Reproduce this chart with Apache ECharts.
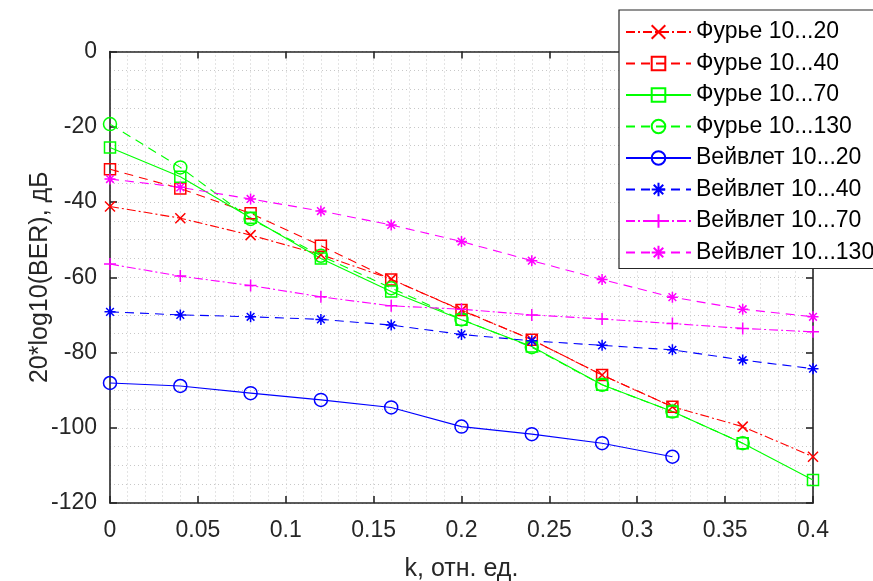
<!DOCTYPE html>
<html>
<head>
<meta charset="utf-8">
<script src="https://cdn.jsdelivr.net/npm/echarts@6/dist/echarts.min.js"></script>
<style>
    html, body { margin: 0; padding: 0; background: #fff; }
    #chart { width: 873px; height: 581px; }
</style>
</head>
<body>
<div id="chart"></div>
<script>
(function () {
    'use strict';

    // k values shared by every curve
    var kValues = [0, 0.04, 0.08, 0.12, 0.16, 0.2, 0.24, 0.28, 0.32, 0.36, 0.4];

    var fourier20 = [-41.2, -44.3, -48.8, -54.0, -60.5, -68.8, -76.6, -86.0, -94.4, -99.7, -107.7];
    var fourier40 = [-31.3, -36.4, -43.0, -51.6, -60.6, -68.7, -76.6, -86.0, -94.4];
    var fourier70 = [-25.5, -33.3, -44.2, -55.0, -63.8, -71.3, -78.4, -88.6, -95.7, -104.1, -113.9];
    var fourier130 = [-19.3, -30.8, -44.5, -54.3, -62.9, -71.2, -78.6, -88.6, -95.7, -104.1];
    var wavelet20 = [-88.1, -88.9, -90.8, -92.6, -94.6, -99.7, -101.7, -104.1, -107.7];
    var wavelet40 = [-69.2, -70.0, -70.5, -71.2, -72.7, -75.2, -76.9, -78.1, -79.3, -82.0, -84.3];
    var wavelet70 = [-56.5, -59.7, -62.2, -65.2, -67.6, -68.5, -70.0, -71.1, -72.3, -73.6, -74.5];
    var wavelet130 = [-33.9, -36.1, -39.2, -42.4, -46.1, -50.5, -55.6, -60.6, -65.3, -68.5, -70.5];

    var xTicks = { min: 0, max: 0.4, interval: 0.05 };
    var yTicks = { min: -120, max: 0, interval: 20 };

    var FONT = 'Liberation Sans, Arial, sans-serif';
    var AXIS_COLOR = '#262626';
    var DASHED = [9, 6];
    var DASH_DOT = [9, 3, 2, 3];

    var SYM_CROSS = 'path://M0,0L10,10M10,0L0,10';
    var SYM_PLUS = 'path://M5,0L5,10M0,5L10,5';
    var SYM_STAR = 'path://M5,0L5,10M0,5L10,5M1.5,1.5L8.5,8.5M8.5,1.5L1.5,8.5';
    var SYM_SQUARE = 'path://M0,0L10,0L10,10L0,10Z';

    function pairs(values) {
        return values.map(function (v, i) {
            return [kValues[i], v];
        });
    }

    function makeSeries(name, values, color, dash, symbol, size) {
        return {
            name: name,
            type: 'line',
            data: pairs(values),
            symbol: symbol,
            symbolSize: size,
            showAllSymbol: true,
            animation: false,
            lineStyle: { color: color, width: 1.1, type: dash },
            itemStyle: { color: 'rgba(0,0,0,0)', borderColor: color, borderWidth: 1.5 },
            emphasis: { disabled: true }
        };
    }

    var series = [
        makeSeries('Фурье 10...20', fourier20, '#ff0000', DASH_DOT, SYM_CROSS, 10),
        makeSeries('Фурье 10...40', fourier40, '#ff0000', DASHED, SYM_SQUARE, 11),
        makeSeries('Фурье 10...70', fourier70, '#00ff00', 'solid', SYM_SQUARE, 11),
        makeSeries('Фурье 10...130', fourier130, '#00ff00', DASHED, 'circle', 13),
        makeSeries('Вейвлет 10...20', wavelet20, '#0000ff', 'solid', 'circle', 13),
        makeSeries('Вейвлет 10...40', wavelet40, '#0000ff', DASHED, SYM_STAR, 11),
        makeSeries('Вейвлет 10...70', wavelet70, '#ff00ff', DASH_DOT, SYM_PLUS, 12),
        makeSeries('Вейвлет 10...130', wavelet130, '#ff00ff', DASHED, SYM_STAR, 11)
    ];

    var gridLine = { show: true, lineStyle: { color: '#c8c8c8', type: [1, 3], width: 1 } };

    function valueAxis(range, position, showLabels, extra) {
        var axis = {
            type: 'value',
            position: position,
            min: range.min,
            max: range.max,
            interval: range.interval,
            axisLine: { show: true, onZero: false, lineStyle: { color: AXIS_COLOR, width: 1.6 } },
            axisTick: { show: true, inside: true, length: 7, lineStyle: { color: AXIS_COLOR, width: 1.6 } },
            axisLabel: { show: showLabels, color: AXIS_COLOR, fontFamily: FONT, fontSize: 23 },
            splitLine: { show: false }
        };
        Object.keys(extra || {}).forEach(function (key) {
            axis[key] = extra[key];
        });
        return axis;
    }

    var option = {
        backgroundColor: '#fff',
        animation: false,
        grid: { left: 110, right: 60, top: 51.5, bottom: 78, containLabel: false, outerBoundsMode: 'none' },
        legend: {
            orient: 'vertical',
            left: 619,
            top: 10,
            padding: [10, 20, 4, 6],
            itemWidth: 65,
            itemHeight: 17,
            itemGap: 7.5,
            backgroundColor: '#fff',
            borderColor: AXIS_COLOR,
            borderWidth: 1.2,
            borderRadius: 0,
            selectedMode: false,
            textStyle: { fontFamily: FONT, fontSize: 23, color: '#000', lineHeight: 24, padding: [0, 0, 0, 0] },
            data: series.map(function (s) { return s.name; })
        },
        xAxis: [
            valueAxis(xTicks, 'bottom', true, {
                name: 'k, отн. ед.',
                nameLocation: 'middle',
                nameGap: 54,
                nameMoveOverlap: false,
                nameTextStyle: { color: AXIS_COLOR, fontFamily: FONT, fontSize: 25 },
                axisLabel: { show: true, color: AXIS_COLOR, fontFamily: FONT, fontSize: 23, margin: 16 },
                splitLine: gridLine,
                minorTick: { show: false, splitNumber: 5 },
                minorSplitLine: gridLine
            }),
            valueAxis(xTicks, 'top', false)
        ],
        yAxis: [
            valueAxis(yTicks, 'left', true, {
                name: '20*log10(BER), дБ',
                nameLocation: 'middle',
                nameGap: 57,
                nameMoveOverlap: false,
                nameTextStyle: { color: AXIS_COLOR, fontFamily: FONT, fontSize: 25 },
                axisLabel: { show: true, color: AXIS_COLOR, fontFamily: FONT, fontSize: 23, margin: 13 },
                splitLine: gridLine,
                minorTick: { show: false, splitNumber: 4 },
                minorSplitLine: gridLine
            }),
            valueAxis(yTicks, 'right', false)
        ],
        series: series
    };

    var chart = echarts.init(document.getElementById('chart'), null, { renderer: 'canvas' });
    chart.setOption(option);
})();
</script>
</body>
</html>
